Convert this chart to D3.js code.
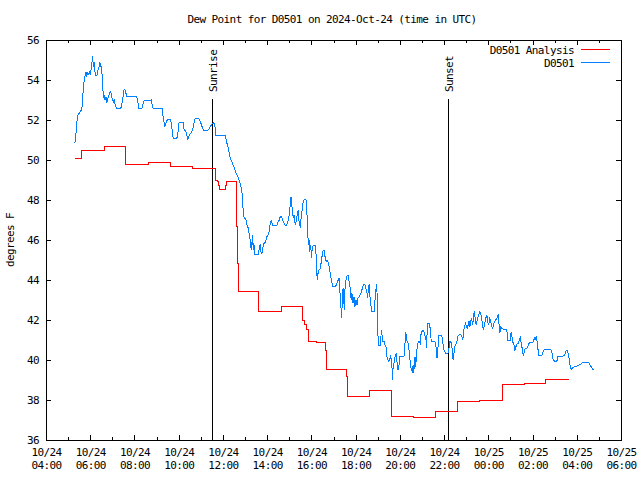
<!DOCTYPE html>
<html><head><meta charset="utf-8">
<script src="https://cdn.jsdelivr.net/npm/d3@7"></script>
<style>
body{margin:0;background:#fff}
svg text{font-family:"DejaVu Sans Mono",monospace;font-size:11px;letter-spacing:-0.6px;fill:#000}
</style></head><body>
<svg id="c" width="640" height="480"></svg>
<script>
const chartTitle = "Dew Point for D0501 on 2024-Oct-24 (time in UTC)";
const yAxisLabel = "degrees F";
const seriesNames = ["D0501 Analysis", "D0501"];
const seriesColors = ["#ff0000", "#0080ff"];
const yTicks = [36, 38, 40, 42, 44, 46, 48, 50, 52, 54, 56];
const sunLabels = ["Sunrise", "Sunset"];
const sunMinutes = [691, 1331]; // minutes since 2024-10-24 00:00 UTC

// Analysis series (minutes since 2024-10-24 00:00 UTC, deg F)
const analysisMinutes = [318,337,398,457,518,578,638,699,701,704,707,710,728,731,757,759,762,816,878,936,942,948,951,973,998,1000,1055,1057,1117,1178,1238,1298,1357,1417,1478,1538,1596,1658];
const analysisValues = [50.08,50.5,50.68,49.78,49.87,49.68,49.58,49.42,49.0,48.92,48.75,48.55,48.75,48.95,46.67,44.85,43.43,42.43,42.7,42.0,41.78,41.53,40.93,40.87,40.5,39.53,39.2,38.2,38.48,37.2,37.12,37.43,37.93,38.0,38.78,38.83,39.03,39.03];

// Observed series
const obsMinutes = [318,321,323,327,332,336,338,341,344,348,349,351,354,357,359,361,363,365,367,368,370,372,374,376,379,381,384,386,388,391,393,395,397,398,400,403,405,408,411,414,416,418,420,423,425,428,431,443,448,451,454,457,460,486,489,492,500,502,506,526,528,531,556,557,560,562,565,568,570,578,581,585,595,599,601,612,615,619,622,624,627,631,635,640,643,646,654,657,661,665,668,680,683,687,690,694,697,699,701,726,728,731,735,737,740,744,747,750,753,756,760,764,767,770,773,774,777,780,783,785,788,791,793,795,797,799,801,802,804,806,816,819,821,823,826,829,831,835,838,840,843,846,849,851,855,867,870,873,876,879,882,885,888,893,896,898,901,903,905,907,908,911,913,915,916,919,922,925,927,930,933,935,937,940,944,946,948,950,952,954,955,957,959,961,962,965,971,973,974,976,978,981,984,987,990,992,995,997,1000,1002,1005,1008,1011,1014,1018,1024,1028,1031,1035,1037,1038,1040,1042,1044,1046,1048,1049,1051,1054,1057,1060,1063,1066,1068,1070,1073,1076,1078,1081,1084,1086,1090,1094,1097,1101,1105,1108,1111,1113,1114,1117,1119,1122,1124,1130,1133,1135,1137,1139,1140,1142,1147,1149,1151,1152,1154,1158,1160,1162,1164,1167,1170,1172,1175,1178,1180,1181,1184,1187,1190,1192,1195,1198,1200,1212,1214,1216,1218,1220,1223,1226,1228,1231,1234,1236,1238,1239,1241,1243,1246,1248,1252,1255,1257,1261,1265,1267,1270,1273,1274,1276,1280,1283,1285,1295,1298,1301,1304,1306,1314,1316,1320,1324,1330,1333,1335,1338,1341,1343,1345,1348,1350,1354,1357,1360,1365,1368,1371,1372,1375,1378,1380,1383,1386,1388,1390,1392,1394,1397,1399,1402,1405,1407,1410,1413,1416,1419,1422,1425,1427,1430,1433,1436,1438,1441,1444,1446,1449,1452,1455,1457,1460,1463,1465,1467,1469,1471,1474,1476,1484,1488,1491,1493,1499,1502,1504,1507,1510,1512,1515,1518,1521,1524,1527,1530,1532,1535,1538,1540,1544,1547,1550,1553,1559,1562,1565,1567,1570,1573,1575,1577,1586,1589,1592,1609,1613,1616,1621,1626,1628,1643,1647,1650,1653,1657,1660,1662,1665,1669,1676,1684,1691,1696,1712,1716,1719,1725];
const obsValues = [50.83,51.2,51.83,52.25,52.4,52.5,52.67,53.5,54.08,54.37,54.17,54.42,54.25,54.33,54.45,54.25,54.67,54.92,55.2,54.67,54.92,54.58,54.25,54.2,54.25,54.5,54.67,54.87,54.75,54.58,54.0,53.33,53.08,53.25,53.0,53.17,52.87,53.08,53.25,53.42,53.42,53.17,53.0,52.92,53.0,52.75,52.58,52.58,53.0,53.5,53.53,53.33,53.17,53.17,52.92,52.58,52.58,52.75,52.97,53.0,52.75,52.58,52.58,52.25,51.92,51.67,51.83,51.97,52.03,52.03,51.67,51.08,51.08,51.5,51.87,51.87,51.5,51.47,51.25,51.0,51.17,51.33,51.37,51.67,52.0,52.08,52.08,52.0,51.8,51.58,51.5,51.5,51.58,51.7,51.8,51.87,51.8,51.58,51.25,51.25,51.08,50.83,50.58,50.33,50.08,49.92,49.75,49.67,49.5,49.33,49.17,49.0,48.83,48.58,48.17,47.67,47.17,47.08,47.0,46.75,46.63,46.33,46.17,45.75,45.5,45.92,46.25,45.5,45.83,45.3,45.3,45.58,45.8,45.42,45.33,45.67,45.83,45.87,46.08,46.2,46.25,46.5,46.92,46.97,46.75,46.75,46.92,47.0,47.2,47.2,46.97,46.87,46.75,46.75,46.92,47.03,47.37,47.92,48.17,47.75,47.5,47.08,47.25,46.97,46.75,46.92,47.33,47.5,46.75,46.67,47.25,47.5,47.83,48.0,48.03,48.0,47.33,46.33,45.75,46.0,45.42,45.75,45.5,45.08,45.58,45.75,45.75,45.17,44.5,44.0,44.33,44.5,44.58,44.92,45.33,45.5,45.5,45.17,44.92,45.0,44.92,44.67,44.33,44.0,43.67,43.67,43.75,43.92,44.08,43.67,43.17,42.75,42.08,43.0,43.58,43.17,42.5,43.5,44.0,44.25,44.25,43.83,43.5,43.0,43.33,42.83,43.17,42.67,43.0,42.75,43.08,43.17,43.3,43.5,43.75,43.8,43.58,43.33,43.08,43.5,43.8,43.17,42.67,42.42,42.42,43.08,43.5,43.8,43.0,41.5,40.75,40.75,41.25,41.5,41.08,40.92,40.92,40.75,40.75,40.25,40.03,39.92,40.0,40.17,39.92,39.0,39.5,39.83,40.17,40.33,39.92,39.5,39.75,40.17,40.2,40.83,41.42,41.08,40.92,40.83,40.33,39.92,39.5,39.42,39.75,39.33,39.83,40.17,39.67,40.42,40.83,40.92,40.83,41.25,41.47,41.47,41.25,41.17,40.58,41.5,41.83,41.83,41.5,40.95,40.95,40.67,40.08,40.75,41.23,41.23,40.92,40.5,40.33,40.33,40.5,40.92,40.92,40.75,40.17,40.0,40.5,40.75,40.83,41.17,41.25,41.28,41.17,41.0,41.25,41.67,41.83,41.75,41.53,41.83,41.97,41.67,41.92,42.08,41.83,41.92,42.47,42.0,41.75,42.0,42.2,42.4,42.37,42.08,41.67,41.5,41.83,42.08,42.25,41.92,41.75,42.08,42.0,41.67,41.58,41.83,41.92,42.0,42.08,42.2,42.3,41.83,41.33,41.63,41.58,41.53,41.53,41.37,40.97,40.97,41.42,41.17,40.87,40.75,40.45,40.67,40.8,40.83,41.0,41.13,40.75,40.58,40.2,40.42,40.58,40.58,40.67,40.83,40.87,40.87,40.92,41.08,41.0,41.2,40.83,40.5,40.25,40.25,40.42,40.55,40.55,40.33,40.0,39.92,39.92,40.2,40.2,40.23,40.42,40.5,40.33,40.0,39.7,39.53,39.62,39.67,39.73,39.8,39.87,39.87,39.75,39.67,39.5];

const base = Date.UTC(2024, 9, 24, 0, 0);
const toDate = m => new Date(base + m * 60000);

const L = 46, R = 621, T = 40, B = 440;
const svg = d3.select("#c");
svg.append("rect").attr("width", 640).attr("height", 480).attr("fill", "#fff");

const x = d3.scaleUtc().domain([toDate(240), toDate(1800)]).range([L, R]);
const y = d3.scaleLinear().domain([36, 56]).range([B, T]);

const majorX = d3.utcHour.every(2).range(toDate(240), toDate(1801));
const minorX = d3.utcHour.range(toDate(240), toDate(1801)).filter(d => d.getUTCHours() % 2 === 1);

// bottom axis with labels
const gB = svg.append("g").attr("transform", `translate(0,${B})`)
  .call(d3.axisBottom(x).tickValues(majorX).tickSize(-5).tickPadding(0).tickFormat(""));
gB.select(".domain").remove();
gB.selectAll(".tick").append("text").attr("text-anchor", "middle").each(function(d) {
  const t = d3.select(this);
  t.append("tspan").attr("x", 0).attr("y", 16).text(d3.utcFormat("%m/%d")(d));
  t.append("tspan").attr("x", 0).attr("y", 29).text(d3.utcFormat("%H:%M")(d));
});
const gBm = svg.append("g").attr("transform", `translate(0,${B})`)
  .call(d3.axisBottom(x).tickValues(minorX).tickSize(-3).tickFormat(""));
gBm.select(".domain").remove();
// top mirrored
const gT = svg.append("g").attr("transform", `translate(0,${T})`)
  .call(d3.axisTop(x).tickValues(majorX).tickSize(-5).tickFormat(""));
gT.select(".domain").remove();
const gTm = svg.append("g").attr("transform", `translate(0,${T})`)
  .call(d3.axisTop(x).tickValues(minorX).tickSize(-3).tickFormat(""));
gTm.select(".domain").remove();

// left axis
const gL = svg.append("g").attr("transform", `translate(${L},0)`)
  .call(d3.axisLeft(y).tickValues(yTicks).tickSize(-5).tickPadding(7).tickFormat(d3.format("d")));
gL.select(".domain").remove();
gL.selectAll(".tick text").attr("dy", "0.35em");
gB.attr("font-family", null).attr("font-size", null);
gL.attr("font-family", null).attr("font-size", null);
const gR = svg.append("g").attr("transform", `translate(${R},0)`)
  .call(d3.axisRight(y).tickValues(yTicks).tickSize(-5).tickFormat(""));
gR.select(".domain").remove();
svg.selectAll(".tick line").attr("stroke", "#000").attr("shape-rendering", "crispEdges");

// frame
svg.append("rect").attr("x", L + 0.5).attr("y", T + 0.5).attr("width", R - L).attr("height", B - T)
  .attr("fill", "none").attr("stroke", "#000").attr("shape-rendering", "crispEdges");

// sunrise / sunset
sunMinutes.forEach((m, i) => {
  const xx = Math.round(x(toDate(m))) + 0.5;
  svg.append("line").attr("x1", xx).attr("x2", xx).attr("y1", 99).attr("y2", B)
    .attr("stroke", "#000").attr("shape-rendering", "crispEdges");
  svg.append("text").attr("transform", `translate(${xx + 4.5},92) rotate(-90)`)
    .attr("text-anchor", "start").text(sunLabels[i]);
});

// series
const analysis = analysisMinutes.map((m, i) => ({t: toDate(m), v: analysisValues[i]}));
const obs = obsMinutes.map((m, i) => ({t: toDate(m), v: obsValues[i]}));
svg.append("path").datum(analysis).attr("fill", "none").attr("stroke", seriesColors[0]).attr("stroke-width", 1)
  .attr("shape-rendering", "crispEdges")
  .attr("d", d3.line().x(d => x(d.t)).y(d => y(d.v)).curve(d3.curveStepAfter));
svg.append("path").datum(obs).attr("fill", "none").attr("stroke", seriesColors[1]).attr("stroke-width", 1)
  .attr("shape-rendering", "crispEdges")
  .attr("d", d3.line().x(d => x(d.t)).y(d => y(d.v)));

// legend
seriesNames.forEach((n, i) => {
  const yy = 50 + i * 13;
  svg.append("text").attr("x", 574).attr("y", yy + 4).attr("text-anchor", "end").text(n);
  svg.append("line").attr("x1", 581).attr("x2", 610).attr("y1", yy - 0.5).attr("y2", yy - 0.5)
    .attr("stroke", seriesColors[i]).attr("shape-rendering", "crispEdges");
});

// title and y label
svg.append("text").attr("x", 332).attr("y", 23).attr("text-anchor", "middle").text(chartTitle);
svg.append("text").attr("transform", `translate(14,240) rotate(-90)`).attr("text-anchor", "middle").text(yAxisLabel);
</script>
</body></html>
